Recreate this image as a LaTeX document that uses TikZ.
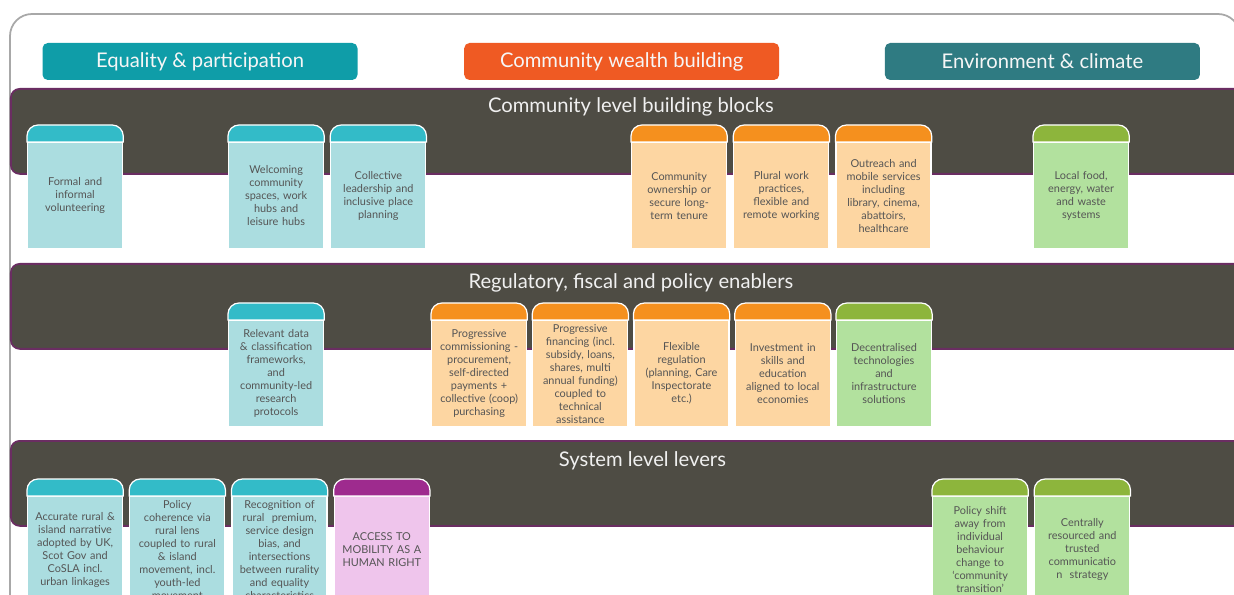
\documentclass[tikz,border=0pt]{standalone}
\usepackage{fontspec}
\setmainfont{Lato}
\usepackage{tikz}
\usetikzlibrary{positioning}
\definecolor{eqteal}{HTML}{0F9DA8}
\definecolor{cwborange}{HTML}{EF5A23}
\definecolor{envteal}{HTML}{2F7B82}
\definecolor{bandgrey}{HTML}{4E4C44}
\definecolor{bandedge}{HTML}{6A2D62}
\definecolor{framegrey}{HTML}{A8A8A8}
\definecolor{cardtext}{HTML}{555555}
\definecolor{tealtab}{HTML}{33BBC8}
\definecolor{tealbody}{HTML}{ABDDE0}
\definecolor{orangetab}{HTML}{F5901E}
\definecolor{orangebody}{HTML}{FDD6A2}
\definecolor{greentab}{HTML}{8DB53C}
\definecolor{greenbody}{HTML}{B2E19E}
\definecolor{purpletab}{HTML}{9E2B8E}
\definecolor{purplebody}{HTML}{EFC5EC}
\tikzset{
  catbox/.style={
    rounded corners=3pt,
    minimum width=6.3cm, minimum height=0.74cm,
    text=white!93!gray, font=\fontsize{11.5}{13}\selectfont
  },
  band/.style={
    draw=bandedge, fill=bandgrey, line width=1pt, rounded corners=5pt,
    minimum width=24.8cm, minimum height=1.7cm, anchor=north west
  },
  bandtitle/.style={
    text=white!88!gray, font=\fontsize{11.5}{13}\selectfont
  },
  card/.style={
    draw=white, line width=0.7pt, fill=#1,
    minimum width=1.9cm, minimum height=2.12cm,
    text width=1.8cm, inner sep=0.05cm, align=center,
    text=cardtext, font=\fontsize{6.2}{7.4}\selectfont
  },
  tab/.style={
    fill=#1, draw=white, line width=0.7pt,
    to path={-- ++(0,0.12) arc[start angle=180, end angle=90, radius=0.22]
      -- ([shift={(-0.22,0.34)}]\tikztotarget)
      arc[start angle=90, end angle=0, radius=0.22] -- (\tikztotarget) -- cycle}
  },
}
\begin{document}
\begin{tikzpicture}[node distance=0.12cm]
  \useasboundingbox (0,0) rectangle (24.68,-11.9);
  \draw[framegrey, line width=1pt, rounded corners=0.44cm] (0.2,-0.28) rectangle (24.8,-14);

  \node[catbox, fill=eqteal] (eq) at (4.0,-1.23) {Equality \& participation};
  \node[catbox, fill=cwborange, right=2.12cm of eq] (cwb) {Community wealth building};
  \node[catbox, fill=envteal, right=2.1cm of cwb] (env) {Environment \& climate};

  \node[band] (blocks) at (0.2,-1.76) {};
  \node[bandtitle] at ([yshift=-0.38cm] blocks.north) {Community level building blocks};
  \node[band] (enablers) at (0.2,-5.26) {};
  \node[bandtitle] at ([yshift=-0.4cm] enablers.north) {Regulatory, fiscal and policy enablers};
  \node[band] (levers) at (0.2,-8.8) {};
  \node[bandtitle] at ([xshift=0.23cm, yshift=-0.42cm] levers.north) {System level levers};

  % community level building blocks
  \node[card=tealbody, anchor=north west] (volunteer) at (0.54,-2.84) {Formal and\\informal\\volunteering};
  \path[tab=tealtab] (volunteer.north west) to (volunteer.north east);
  \node[card=tealbody, anchor=north west] (spaces) at (4.56,-2.84) {Welcoming\\community\\spaces, work\\hubs and\\leisure hubs};
  \path[tab=tealtab] (spaces.north west) to (spaces.north east);
  \node[card=tealbody, right=of spaces] (leadership) {Collective\\leadership and\\inclusive place\\planning};
  \path[tab=tealtab] (leadership.north west) to (leadership.north east);
  \node[card=orangebody, anchor=north west] (ownership) at (12.62,-2.84) {Community\\ownership or\\secure long-\\term tenure};
  \path[tab=orangetab] (ownership.north west) to (ownership.north east);
  \node[card=orangebody, right=of ownership] (plural) {Plural work\\practices,\\flexible and\\remote working};
  \path[tab=orangetab] (plural.north west) to (plural.north east);
  \node[card=orangebody, right=of plural] (outreach) {Outreach and\\mobile services\\including\\library, cinema,\\abattoirs,\\healthcare};
  \path[tab=orangetab] (outreach.north west) to (outreach.north east);
  \node[card=greenbody, anchor=north west] (localfood) at (20.66,-2.84) {Local food,\\energy, water\\and waste\\systems};
  \path[tab=greentab] (localfood.north west) to (localfood.north east);

  % regulatory, fiscal and policy enablers
  \node[card=tealbody, anchor=north west] (data) at (4.56,-6.4) {Relevant data\\\& classification\\frameworks,\\and\\community-led\\research\\protocols};
  \path[tab=tealtab] (data.north west) to (data.north east);
  \node[card=orangebody, anchor=north west] (commission) at (8.62,-6.4) {Progressive\\commissioning\ -\\procurement,\\self-directed\\payments +\\collective (coop)\\purchasing};
  \path[tab=orangetab] (commission.north west) to (commission.north east);
  \node[card=orangebody, right=0.1cm of commission] (financing) {Progressive\\financing (incl.\\subsidy, loans,\\shares, multi\\annual funding)\\coupled to\\technical\\assistance};
  \path[tab=orangetab] (financing.north west) to (financing.north east);
  \node[card=orangebody, right=0.1cm of financing] (regulation) {Flexible\\regulation\\(planning, Care\\Inspectorate\\etc.)};
  \path[tab=orangetab] (regulation.north west) to (regulation.north east);
  \node[card=orangebody, right=0.1cm of regulation] (skills) {Investment in\\skills and\\education\\aligned to local\\economies};
  \path[tab=orangetab] (skills.north west) to (skills.north east);
  \node[card=greenbody, right=0.1cm of skills] (decentral) {Decentralised\\technologies\\and\\infrastructure\\solutions};
  \path[tab=greentab] (decentral.north west) to (decentral.north east);

  % system level levers
  \node[card=tealbody, anchor=north west] (narrative) at (0.54,-9.92) {Accurate rural \&\\island narrative\\adopted by UK,\\Scot Gov and\\CoSLA incl.\\urban linkages};
  \path[tab=tealtab] (narrative.north west) to (narrative.north east);
  \node[card=tealbody, right=of narrative] (coherence) {Policy\\coherence via\\rural lens\\coupled to rural\\\& island\\movement, incl.\\youth-led\\movement};
  \path[tab=tealtab] (coherence.north west) to (coherence.north east);
  \node[card=tealbody, right=of coherence] (premium) {Recognition of\\rural\ \ premium,\\service design\\bias, and\\intersections\\between rurality\\and equality\\characteristics};
  \path[tab=tealtab] (premium.north west) to (premium.north east);
  \node[card=purplebody, right=of premium] (mobility) {ACCESS TO\\MOBILITY AS A\\HUMAN RIGHT};
  \path[tab=purpletab] (mobility.north west) to (mobility.north east);
  \node[card=greenbody, anchor=north west] (shift) at (18.64,-9.92) {Policy shift\\away from\\individual\\behaviour\\change to\\‘community\\transition’};
  \path[tab=greentab] (shift.north west) to (shift.north east);
  \node[card=greenbody, right=of shift] (comms) {Centrally\\resourced and\\trusted\\communicatio\\n\ \ strategy};
  \path[tab=greentab] (comms.north west) to (comms.north east);
\end{tikzpicture}
\end{document}
